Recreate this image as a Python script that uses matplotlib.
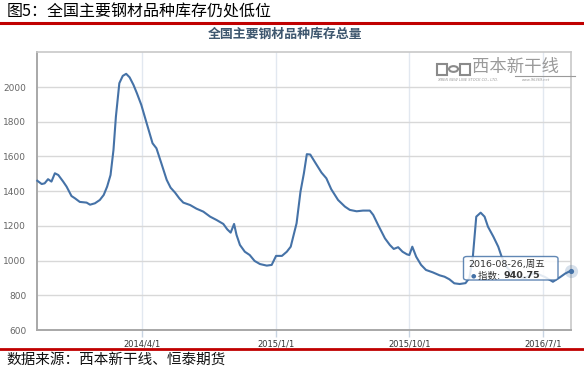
import matplotlib
matplotlib.use("Agg")
import matplotlib.pyplot as plt
from matplotlib.patches import FancyBboxPatch, Circle, Rectangle
import pandas as pd

W, H = 584, 371

title_text = "图5：全国主要钢材品种库存仍处低位"
chart_title = "全国主要钢材品种库存总量"
source_text = "数据来源：西本新干线、恒泰期货"
tooltip_date = "2016-08-26,周五"
tooltip_label = "指数: "
tooltip_value = "940.75"

dates = [
    "2013-08-30", "2013-09-08", "2013-09-14", "2013-09-21", "2013-09-28", "2013-10-05",
    "2013-10-12", "2013-10-22", "2013-10-29", "2013-11-08", "2013-11-15", "2013-11-25",
    "2013-12-09", "2013-12-16", "2013-12-26", "2014-01-05", "2014-01-13", "2014-01-20",
    "2014-01-27", "2014-02-02", "2014-02-07", "2014-02-14", "2014-02-21", "2014-02-28",
    "2014-03-07", "2014-03-15", "2014-03-22", "2014-03-31", "2014-04-11", "2014-04-23",
    "2014-05-01", "2014-05-11", "2014-05-22", "2014-05-30", "2014-06-08", "2014-06-17",
    "2014-06-25", "2014-07-09", "2014-07-22", "2014-08-05", "2014-08-19", "2014-09-01",
    "2014-09-15", "2014-09-23", "2014-09-30", "2014-10-07", "2014-10-12", "2014-10-19",
    "2014-10-29", "2014-11-08", "2014-11-18", "2014-11-29", "2014-12-13", "2014-12-23",
    "2015-01-01", "2015-01-13", "2015-01-23", "2015-01-31", "2015-02-12", "2015-02-20",
    "2015-02-27", "2015-03-05", "2015-03-12", "2015-03-21", "2015-04-04", "2015-04-14",
    "2015-04-24", "2015-05-08", "2015-05-22", "2015-06-01", "2015-06-15", "2015-06-28",
    "2015-07-12", "2015-07-19", "2015-07-29", "2015-08-12", "2015-08-22", "2015-08-30",
    "2015-09-08", "2015-09-17", "2015-09-26", "2015-10-01", "2015-10-07", "2015-10-15",
    "2015-10-25", "2015-11-04", "2015-11-18", "2015-12-02", "2015-12-12", "2015-12-22",
    "2016-01-01", "2016-01-12", "2016-01-24", "2016-02-01", "2016-02-08", "2016-02-15",
    "2016-02-24", "2016-03-03", "2016-03-10", "2016-03-21", "2016-03-31", "2016-04-07",
    "2016-04-18", "2016-05-05", "2016-05-25", "2016-06-14", "2016-07-05", "2016-07-21",
    "2016-08-05", "2016-08-15", "2016-08-26",
]
values = [
    1460, 1441, 1445, 1469, 1455, 1503,
    1493, 1455, 1426, 1372, 1359, 1338,
    1334, 1322, 1330, 1349, 1378, 1426,
    1493, 1637, 1830, 2022, 2064, 2076,
    2056, 2012, 1964, 1897, 1791, 1676,
    1647, 1561, 1465, 1420, 1392, 1358,
    1334, 1320, 1299, 1282, 1253, 1234,
    1211, 1180, 1161, 1211, 1148, 1090,
    1051, 1032, 998, 980, 971, 975,
    1027, 1027, 1051, 1080, 1215, 1397,
    1503, 1613, 1611, 1570, 1507, 1474,
    1411, 1349, 1311, 1292, 1284, 1288,
    1288, 1263, 1205, 1128, 1090, 1067,
    1077, 1051, 1036, 1032, 1080, 1022,
    975, 946, 932, 915, 907, 892,
    869, 865, 870, 900, 1022, 1253,
    1276, 1253, 1195, 1138, 1080, 1022,
    960, 910, 900, 930, 905, 878,
    905, 925, 940.75,
]

x_ticks = ["2014-04-01", "2015-01-01", "2015-10-01", "2016-07-01"]
x_tick_labels = ["2014/4/1", "2015/1/1", "2015/10/1", "2016/7/1"]
y_ticks = [600, 800, 1000, 1200, 1400, 1600, 1800, 2000]

CJK = ["DejaVu Sans", "Noto Sans CJK SC"]
CJK_FIRST = ["Noto Sans CJK SC", "DejaVu Sans"]
LINE = "#4572A7"


def fx(x):
    return x / W


def fy(y):
    return 1 - y / H


fig = plt.figure(figsize=(W / 100, H / 100), dpi=100)
fig.patch.set_facecolor("white")

left, right, top, bottom = 37.3, 570.5, 52.3, 330.0
ax = fig.add_axes([fx(left), fy(bottom), (right - left) / W, (bottom - top) / H])

d = pd.to_datetime(dates)
ax.plot(d, values, color=LINE, lw=1.5, solid_joinstyle="round", zorder=3, clip_on=False)

ax.set_xlim(pd.Timestamp("2013-08-30"), pd.Timestamp("2016-08-26"))
ax.set_ylim(600, 2200)
ax.set_yticks(y_ticks)
ax.set_yticklabels([str(v) for v in y_ticks])
ax.set_xticks(pd.to_datetime(x_ticks))
ax.set_xticklabels(x_tick_labels)

ax.grid(axis="y", color="#D8D8D8", lw=1.0)
ax.grid(axis="x", color="#E2E8F0", lw=1.0)
ax.set_axisbelow(True)

ax.tick_params(axis="y", length=0, pad=8, labelsize=6.5, labelcolor="#666666")
ax.tick_params(axis="x", length=5, width=1, color="#C8D4E2", pad=2, labelsize=6,
               labelcolor="#333333")
for s in ["left", "bottom"]:
    ax.spines[s].set_color("#A8A8A8")
    ax.spines[s].set_linewidth(1.4)
for s in ["top", "right"]:
    ax.spines[s].set_color("#C8C8C8")
    ax.spines[s].set_linewidth(1.2)

# Header title and red rules
fig.text(fx(7), fy(12), title_text, fontsize=11.5, family=CJK_FIRST, color="#000000",
         ha="left", va="center")
fig.add_artist(plt.Line2D([0, 1], [fy(23), fy(23)], color="#C00000", lw=2.2))
fig.add_artist(plt.Line2D([0, 1], [fy(349), fy(349)], color="#C00000", lw=2.0))
fig.text(fx(6), fy(360), source_text, fontsize=10.5, family=CJK_FIRST, color="#111111",
         ha="left", va="center", fontweight="medium")

# Chart title
fig.text(fx(285), fy(34), chart_title, fontsize=9.3, family=CJK_FIRST, color="#3E576F",
         ha="center", va="center", fontweight="bold")

# Watermark
fig.text(fx(472), fy(67), "西本新干线", fontsize=12.5, family=CJK_FIRST, color="#9A9A9A",
         ha="left", va="center", style="italic")
fig.text(fx(437), fy(80), "XIBEN NEW LINE STOCK CO., LTD.", fontsize=2.6, color="#9A9A9A",
         ha="left", va="center", style="italic")
fig.text(fx(522), fy(80), "www.96369.net", fontsize=2.6, color="#9A9A9A",
         ha="left", va="center", style="italic")
fig.add_artist(plt.Line2D([fx(515), fx(575)], [fy(76), fy(76)], color="#9A9A9A", lw=0.8))
fig.add_artist(Rectangle((fx(437), fy(75)), 10 / W, 11 / H, transform=fig.transFigure,
                         facecolor="none", edgecolor="#8A8A8A", lw=1.5))
fig.add_artist(Circle((fx(453.5), fy(69)), 4.5 / W, transform=fig.transFigure,
                      facecolor="none", edgecolor="#8A8A8A", lw=1.5))
fig.add_artist(Rectangle((fx(460), fy(75)), 10 / W, 11 / H, transform=fig.transFigure,
                         facecolor="none", edgecolor="#8A8A8A", lw=1.5))

# Tooltip
box = FancyBboxPatch((fx(463.5), fy(280)), 94.5 / W, 23.5 / H,
                     boxstyle="round,pad=0,rounding_size=0.006",
                     transform=fig.transFigure, facecolor="white", alpha=0.85,
                     edgecolor=LINE, lw=1.0, zorder=10)
fig.add_artist(box)
fig.text(fx(468), fy(264.5), tooltip_date, fontsize=6.8, family=CJK, color="#333333",
         ha="left", va="center", zorder=11)
fig.text(fx(473.5), fy(276), "●", fontsize=4.5, color=LINE, ha="center", va="center",
         zorder=11)
fig.text(fx(478), fy(276), tooltip_label, fontsize=6.8, family=CJK, color="#333333",
         ha="left", va="center", zorder=11)
fig.text(fx(504), fy(276), tooltip_value, fontsize=6.8, family=CJK, color="#333333",
         ha="left", va="center", fontweight="bold", zorder=11)

# Hovered point
ax.scatter([d[-1]], [values[-1]], s=90, color=LINE, alpha=0.22, zorder=4, clip_on=False,
           linewidths=0)
ax.scatter([d[-1]], [values[-1]], s=14, color=LINE, zorder=5, clip_on=False, linewidths=0)

fig.savefig("out.png", dpi=100)
